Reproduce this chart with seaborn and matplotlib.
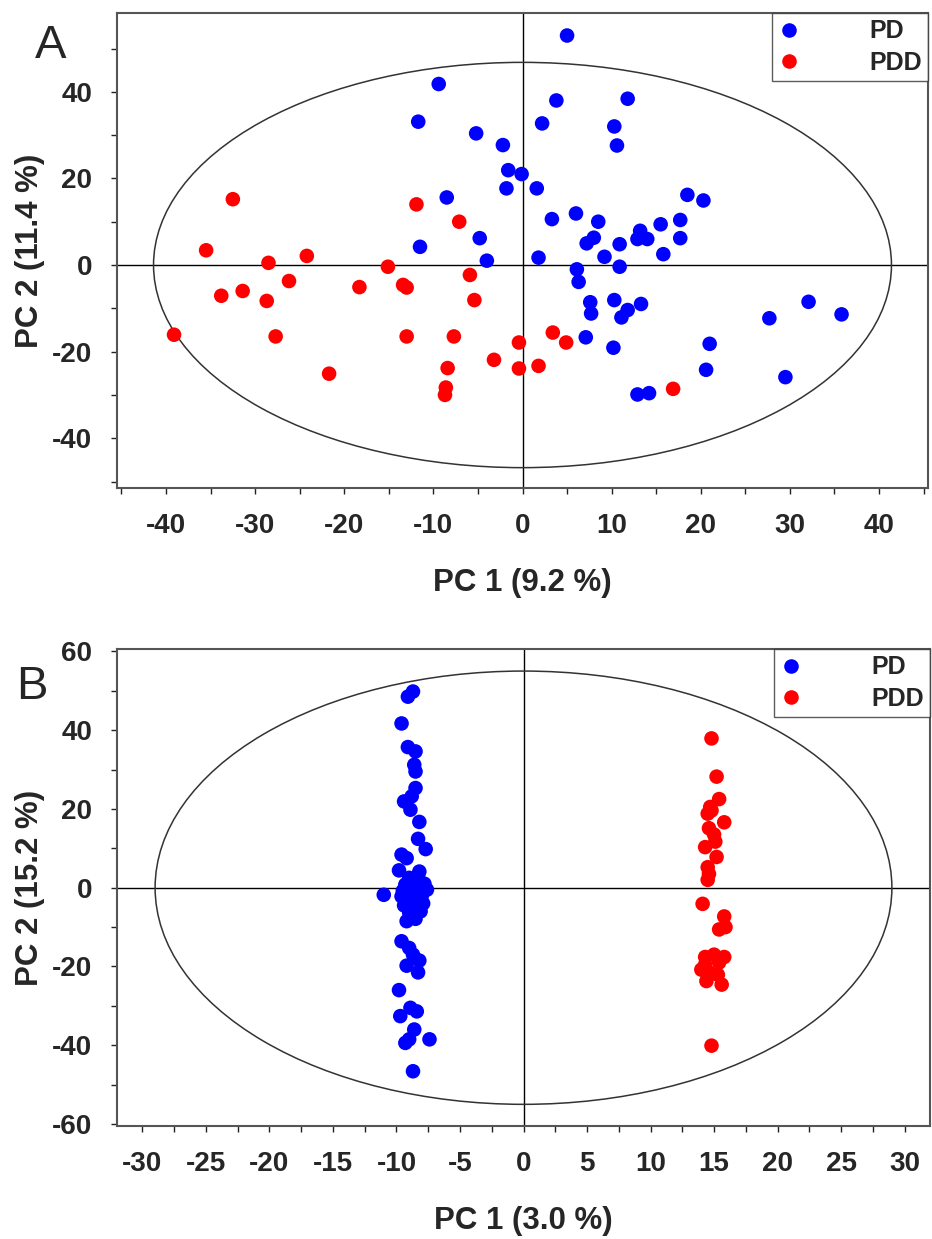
import numpy as np
import pandas as pd
import matplotlib
matplotlib.use("Agg")
import matplotlib.pyplot as plt
from matplotlib.patches import Ellipse
from matplotlib.ticker import MultipleLocator
import seaborn as sns

# ---------------- data ----------------
groups = ["PD", "PDD"]
colors = {"PD": "#0000FF", "PDD": "#FF0000"}

# Panel A
a_pd_x = [-9.4, -11.7, -5.2, -2.2, -1.6, -0.1, -1.8, -8.5, -4.8, -11.5, -4.0, 5.0, 3.8, 11.8,
          2.2, 10.3, 10.6, 1.6, 18.5, 20.3, 3.3, 6.0, 8.5, 15.5, 17.7, 17.7, 7.2, 8.0, 10.9,
          13.2, 12.9, 14.0, 1.8, 9.2, 15.8, 6.1, 6.3, 10.9, 7.6, 7.7, 10.3, 11.8, 11.1, 13.3,
          7.1, 10.2, 12.9, 14.2, 21.0, 20.6, 27.7, 32.1, 35.8, 29.5]
a_pd_y = [41.8, 33.1, 30.4, 27.7, 21.9, 21.0, 17.7, 15.6, 6.2, 4.2, 1.0, 53.0, 38.0, 38.4,
          32.7, 32.0, 27.6, 17.7, 16.2, 14.9, 10.6, 11.9, 10.0, 9.4, 10.4, 6.2, 5.0, 6.3, 4.8,
          7.9, 6.0, 6.0, 1.7, 1.9, 2.5, -1.0, -3.9, -0.4, -8.6, -11.2, -8.1, -10.4, -12.1, -9.0,
          -16.7, -19.1, -29.9, -29.6, -18.2, -24.2, -12.3, -8.5, -11.4, -25.9]
a_pdd_x = [-32.5, -11.9, -7.1, -35.5, -28.5, -24.2, -15.1, -5.9, -26.2, -18.3, -13.4, -13.0,
           -33.8, -31.4, -28.7, -5.4, -39.1, -27.7, -13.0, -7.7, -0.4, -3.2, -0.4, -8.4, -8.6,
           -8.7, -21.7, 3.4, 4.9, 1.8, 16.9]
a_pdd_y = [15.2, 14.0, 10.0, 3.4, 0.5, 2.1, -0.4, -2.3, -3.7, -5.1, -4.6, -5.2,
           -7.1, -6.0, -8.3, -8.1, -16.1, -16.5, -16.5, -16.5, -17.9, -21.9, -23.9, -23.8, -28.3,
           -30.0, -25.1, -15.6, -17.9, -23.3, -28.6]

# Panel B
b_pd_x = [-8.7, -9.1, -9.6, -9.1, -8.5, -8.6, -8.5, -8.5, -8.8, -9.4, -8.9, -8.2, -8.3, -7.7,
          -9.6, -9.2, -9.8, -8.2, -11.0,
          -9.0, -8.4, -7.8, -9.3, -8.6, -7.6, -9.5, -8.8, -8.0, -9.2, -8.5, -7.9, -9.4, -8.7,
          -9.0, -8.1, -9.2, -8.5, -8.3, -9.6,
          -9.6, -9.0, -8.7, -8.2, -9.2, -8.3, -9.8, -8.9, -8.4, -9.7, -8.6, -9.0, -9.3, -7.4, -8.7]
b_pd_y = [49.8, 48.5, 41.7, 35.7, 34.6, 31.2, 29.5, 25.3, 23.2, 21.9, 19.8, 16.7, 12.4, 9.8,
          8.4, 7.5, 4.4, 4.1, -1.8,
          2.5, 1.8, 1.0, 0.8, 0.2, -0.5, -0.8, -1.5, -2.0, -2.8, -3.3, -4.0, -4.5, -5.2,
          -6.3, -6.0, -8.5, -7.9, 3.0, -2.2,
          -13.6, -15.3, -17.0, -18.5, -19.8, -21.5, -26.0, -30.5, -31.4, -32.6, -36.0, -38.5, -39.4, -38.5, -46.6]
b_pdd_x = [14.8, 15.2, 15.4, 14.7, 14.5, 15.8, 14.6, 15.1, 14.3, 15.2, 14.5, 14.6, 14.5, 14.1,
           15.8, 15.4, 15.9, 14.3, 15.0, 15.8, 14.0, 14.3, 15.3, 14.4, 15.6, 14.8,
           15.0, 14.6, 15.4, 14.8]
b_pdd_y = [37.9, 28.2, 22.5, 20.5, 18.8, 16.6, 15.1, 11.7, 10.3, 7.8, 5.2, 3.5, 2.0, -4.1,
           -7.3, -10.6, -10.0, -17.6, -17.0, -17.6, -20.8, -19.5, -22.1, -23.7, -24.6, -40.1,
           13.5, -21.5, -19.0, 19.6]

# Hotelling ellipse semi-axes (data units)
a_ellipse = (41.4, 46.8)
b_ellipse = (29.0, 55.0)

panel_specs = [
    dict(tag="A", pdx=a_pd_x, pdy=a_pd_y, pddx=a_pdd_x, pddy=a_pdd_y, ell=a_ellipse,
         xlabel="PC 1 (9.2 %)", ylabel="PC 2 (11.4 %)",
         xlim=(-45.5, 45.5), ylim=(-51.5, 58.2), xmaj=10, xmin=5, ymaj=20, ymin=10),
    dict(tag="B", pdx=b_pd_x, pdy=b_pd_y, pddx=b_pdd_x, pddy=b_pdd_y, ell=b_ellipse,
         xlabel="PC 1 (3.0 %)", ylabel="PC 2 (15.2 %)",
         xlim=(-32.0, 32.0), ylim=(-60.5, 60.6), xmaj=5, xmin=2.5, ymaj=20, ymin=10),
]

# ---------------- plotting ----------------
sns.set_theme(style="white")
plt.rcParams["font.family"] = ["Liberation Sans", "DejaVu Sans"]
plt.rcParams["axes.unicode_minus"] = False

W, H = 932, 1239
fig = plt.figure(figsize=(W / 100, H / 100), dpi=100)

rects = [
    [117 / W, (H - 488) / H, (928 - 117) / W, (488 - 13) / H],
    [117 / W, (H - 1126) / H, (930 - 117) / W, (1126 - 649) / H],
]
tag_pos = [(35 / W, (H - 58) / H), (16 / W, (H - 699) / H)]

for spec, rect, tpos in zip(panel_specs, rects, tag_pos):
    ax = fig.add_axes(rect)
    df = pd.DataFrame({
        "x": list(spec["pdx"]) + list(spec["pddx"]),
        "y": list(spec["pdy"]) + list(spec["pddy"]),
        "group": ["PD"] * len(spec["pdx"]) + ["PDD"] * len(spec["pddx"]),
    })
    ax.axhline(0, color="black", lw=1.0, zorder=1)
    ax.axvline(0, color="black", lw=1.0, zorder=1)
    ell = Ellipse((0, 0), 2 * spec["ell"][0], 2 * spec["ell"][1], fill=False,
                  edgecolor="#333333", lw=1.1, zorder=1)
    ax.add_patch(ell)
    sns.scatterplot(data=df, x="x", y="y", hue="group", hue_order=groups, palette=colors,
                    s=110, linewidth=0, edgecolor="none", ax=ax, zorder=3)
    ax.set_xlim(*spec["xlim"])
    ax.set_ylim(*spec["ylim"])
    ax.xaxis.set_major_locator(MultipleLocator(spec["xmaj"]))
    ax.xaxis.set_minor_locator(MultipleLocator(spec["xmin"]))
    ax.yaxis.set_major_locator(MultipleLocator(spec["ymaj"]))
    ax.yaxis.set_minor_locator(MultipleLocator(spec["ymin"]))
    ax.tick_params(axis="both", which="both", direction="out", length=4, width=1,
                   color="#222222", left=True, bottom=True)
    ax.tick_params(axis="both", which="major", labelsize=20, pad=14)
    for lab in ax.get_xticklabels() + ax.get_yticklabels():
        lab.set_fontweight("bold")
    ax.set_xlabel(spec["xlabel"], fontsize=22.5, fontweight="bold", labelpad=21)
    ax.set_ylabel(spec["ylabel"], fontsize=22.5, fontweight="bold", labelpad=5)
    for sp in ax.spines.values():
        sp.set_color("#555555")
        sp.set_linewidth(1.5)
    leg = ax.legend(loc="upper right", borderaxespad=0, frameon=True, fancybox=False,
                    prop={"weight": "bold", "size": 18}, handletextpad=2.75,
                    markerscale=1.0, borderpad=0.25, labelspacing=0.3, handlelength=0.9)
    leg.get_frame().set_edgecolor("#333333")
    leg.get_frame().set_linewidth(1.0)
    leg.get_frame().set_boxstyle("square", pad=0)
    fig.text(tpos[0], tpos[1], spec["tag"], fontsize=34, ha="left", va="baseline")

fig.savefig("out.png", dpi=100, facecolor="white")
